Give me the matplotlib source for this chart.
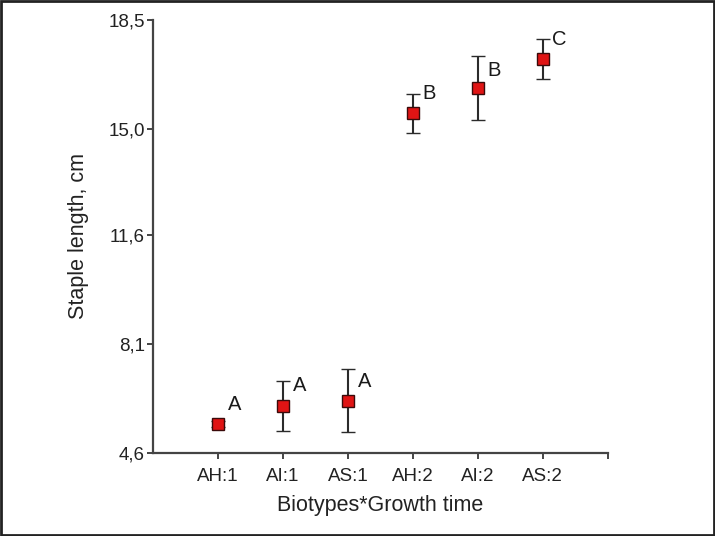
import numpy as np
import matplotlib.pyplot as plt
from matplotlib.ticker import FixedLocator

plt.rcParams['font.family'] = ['Liberation Sans', 'DejaVu Sans']

# values
groups = ['AH:1', 'AI:1', 'AS:1', 'AH:2', 'AI:2', 'AS:2']
means = [5.52, 6.11, 6.27, 15.50, 16.31, 17.24]
errors = [0.10, 0.81, 1.01, 0.63, 1.02, 0.64]
letters = ['A', 'A', 'A', 'B', 'B', 'C']

y_ticks = [4.6, 8.1, 11.6, 15.0, 18.5]

fig = plt.figure(figsize=(7.15, 5.36), dpi=100)
ax = fig.add_axes([0.214, 0.155, 0.636, 0.808])

x = np.arange(1, len(groups) + 1)
ax.errorbar(x, means, yerr=errors, fmt='s', color='#2b2b2b', ecolor='#2b2b2b',
            elinewidth=1.5, capsize=5, capthick=1.5,
            markerfacecolor='#e01414', markeredgecolor='#3a0a0a',
            markeredgewidth=1.0, markersize=8, zorder=3)

# letter placement tweaks (points) relative to the top of each error bar
dy = [12, -3.5, -8.5, 0, -10, 0]
for xi, m, e, lab, d in zip(x, means, errors, letters, dy):
    ax.annotate(lab, (xi, m + e), xytext=(12, d), textcoords='offset points',
                ha='center', va='center', fontsize=14.5, color='#1a1a1a')

ax.set_xlim(0, 7)
ax.set_ylim(y_ticks[0], y_ticks[-1])
ax.set_xticks(x)
ax.set_xticklabels(groups)
ax.xaxis.set_minor_locator(FixedLocator([7]))
ax.set_yticks(y_ticks)
ax.set_yticklabels([f'{v:.1f}'.replace('.', ',') for v in y_ticks])

for side in ['top', 'right']:
    ax.spines[side].set_visible(False)
for side in ['left', 'bottom']:
    ax.spines[side].set_color('#444444')
    ax.spines[side].set_linewidth(1.6)
ax.tick_params(axis='both', which='both', direction='out', length=4, width=1.4,
               color='#444444', labelsize=13.5, labelcolor='#222222')
ax.tick_params(axis='x', pad=7)
ax.tick_params(axis='y', pad=2)

ax.set_xlabel('Biotypes*Growth time', fontsize=15.5, color='#222222', labelpad=7)
ax.set_ylabel('Staple length, cm', fontsize=15.5, color='#222222', labelpad=14)

# dark frame round the whole picture
fig.patches.append(plt.Rectangle((0.001, 0.001), 0.998, 0.997, transform=fig.transFigure,
                                 fill=False, edgecolor='#222222', linewidth=2))

fig.savefig('out.png', dpi=100)
